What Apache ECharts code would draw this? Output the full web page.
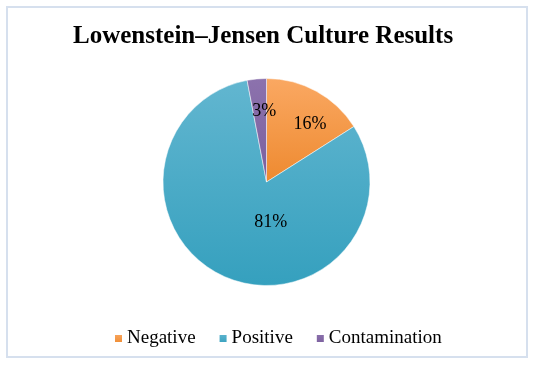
<!DOCTYPE html>
<html><head><meta charset="utf-8">
<script src="https://cdn.jsdelivr.net/npm/echarts@6/dist/echarts.min.js"></script>
<style>html,body{margin:0;padding:0;background:#fff}#c{width:535px;height:366px}</style>
</head><body><div id="c"></div>
<script>
const categories = ['Negative', 'Positive', 'Contamination'];
const values = [16, 81, 3];
const titleText = 'Lowenstein\u2013Jensen Culture Results';

const colorTop = ['#FAA862', '#62B6D0', '#8C72AD'];
const colorBot = ['#EE8A30', '#35A0BE', '#7B5F9E'];
const labelShift = [[17, -10], [26, -10], [3, -16]];

const chart = echarts.init(document.getElementById('c'), null, {renderer: 'canvas'});
const font = '"Liberation Serif", "Times New Roman", serif';
chart.setOption({
  animation: false,
  backgroundColor: '#fff',
  graphic: [{
    type: 'rect', shape: {x: 7, y: 7, width: 520, height: 350},
    style: {fill: 'none', stroke: '#D6E0EE', lineWidth: 2}, silent: true
  }],
  title: {
    text: titleText, left: 68, top: 19,
    textStyle: {fontFamily: font, fontWeight: 'bold', fontSize: 25, color: '#000'}
  },
  legend: {
    top: 324, left: 108, itemWidth: 9, itemHeight: 9, itemGap: 22,
    icon: 'rect',
    textStyle: {fontFamily: font, fontSize: 19, color: '#000', padding: [0, 0, 0, -1]},
    data: categories
  },
  series: [{
    type: 'pie', center: [266.5, 182], radius: 103.5,
    startAngle: 90, clockwise: true,
    label: {
      position: 'inside', fontFamily: font, fontSize: 18, color: '#000',
      formatter: p => p.value + '%'
    },
    labelLayout: p => ({dx: labelShift[p.dataIndex][0], dy: labelShift[p.dataIndex][1]}),
    labelLine: {show: false},
    itemStyle: {borderColor: '#fff', borderWidth: 0.5},
    emphasis: {disabled: true},
    data: categories.map((n, i) => ({
      name: n, value: values[i],
      itemStyle: {color: new echarts.graphic.LinearGradient(0, 0, 0, 1, [
        {offset: 0, color: colorTop[i]}, {offset: 1, color: colorBot[i]}])}
    }))
  }]
});
</script></body></html>
